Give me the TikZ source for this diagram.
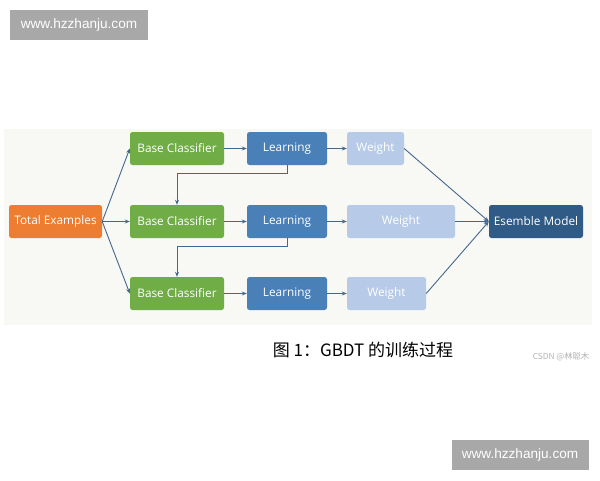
\documentclass[tikz,border=0pt]{standalone}
\usepackage{fontspec}
\setmainfont{Open Sans}
\newfontfamily\cjk{Noto Sans CJK SC}
\newfontfamily\wm{Liberation Sans}
\usetikzlibrary{arrows.meta}
\definecolor{bgpanel}{HTML}{F8F8F4}
\definecolor{orangebox}{HTML}{ED7D31}
\definecolor{greenbox}{HTML}{70AD47}
\definecolor{bluebox}{HTML}{4A80B8}
\definecolor{lightbox}{HTML}{B7CBE8}
\definecolor{darkbox}{HTML}{2F5B86}
\definecolor{arrowc}{HTML}{44678E}
\definecolor{wmgray}{HTML}{A8A8A8}
\tikzset{
  box/.style={rectangle, rounded corners=2.5pt, minimum height=33pt, inner sep=0pt, text=white, font=\fontsize{11.8}{13}\selectfont},
  conn/.style={draw=arrowc, line width=0.9pt, -{Stealth[length=5pt,width=4pt]}},
  wmark/.style={fill=wmgray, text=white, font=\wm\fontsize{13.6}{15}\selectfont, inner sep=0pt, minimum height=30pt}
}
\begin{document}
\begin{tikzpicture}[x=1pt,y=-1pt]
\useasboundingbox (0,0) rectangle (600,480);
\fill[white] (0,0) rectangle (600,480);
\fill[bgpanel] (4,129) rectangle (592,325);
\node[wmark, minimum width=138pt] (wm1) at (79,25) {www.hzzhanju.com};
\node[wmark, minimum width=137pt] (wm2) at (520,455) {www.hzzhanju.com};
\node[box, fill=orangebox, minimum width=93pt] (tot) at (55.5,221.5) {Total Examples};
\node[box, fill=greenbox, minimum width=94pt] (bc1) at (177,148.5) {Base Classifier};
\node[box, fill=greenbox, minimum width=94pt] (bc2) at (177,221.5) {Base Classifier};
\node[box, fill=greenbox, minimum width=94pt] (bc3) at (177,293.5) {Base Classifier};
\node[box, fill=bluebox, minimum width=80pt] (l1) at (287,148.5) {Learning};
\node[box, fill=bluebox, minimum width=80pt] (l2) at (287,221.5) {Learning};
\node[box, fill=bluebox, minimum width=80pt] (l3) at (287,293.5) {Learning};
\node[box, fill=lightbox, minimum width=57pt] (w1) at (375.5,148.5) {Weight};
\node[box, fill=lightbox, minimum width=108pt] (w2) at (401,221.5) {Weight};
\node[box, fill=lightbox, minimum width=79pt] (w3) at (386.5,293.5) {Weight};
\node[box, fill=darkbox, minimum width=94pt] (em) at (536,221.5) {Esemble Model};
\draw[conn] (tot.east) -- (bc1.west);
\draw[conn] (tot.east) -- (bc2.west);
\draw[conn] (tot.east) -- (bc3.west);
\draw[conn] (bc1) -- (l1);
\draw[conn] (bc2) -- (l2);
\draw[conn] (bc3) -- (l3);
\draw[conn] (l1) -- (w1);
\draw[conn] (l2) -- (w2);
\draw[conn] (l3) -- (w3);
\draw[conn] (l1.south) -- ++(0,8) -| (bc2.north);
\draw[conn] (l2.south) -- ++(0,8) -| (bc3.north);
\draw[conn] (w1.east) -- (em.west);
\draw[conn] (w2.east) -- (em.west);
\draw[conn] (w3.east) -- (em.west);
\node[font=\cjk\fontsize{17}{19}\selectfont, text=black, inner sep=0pt] (cap) at (363,350) {图 1：GBDT 的训练过程};
\node[font=\cjk\fontsize{8.3}{9}\selectfont, text=black!30, inner sep=0pt] (csdn) at (561,357) {CSDN @林聪木};
\end{tikzpicture}
\end{document}
